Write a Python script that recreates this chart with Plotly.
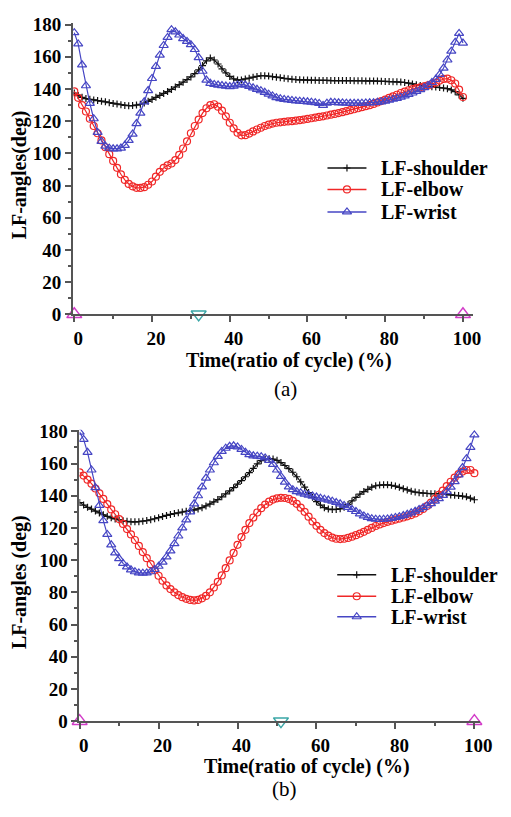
import plotly.graph_objects as go

# Gait-cycle time axis (% of cycle)
time_pct = list(range(0, 101))

# (a) joint angles, deg
shoulder_a = [137.5, 136, 134.8, 134, 133.6, 133.2, 132.8, 132.4, 132, 131.5,
              131, 130.6, 130.2, 129.8, 129.6, 129.7, 130, 130.5, 131.2, 132.3,
              133.5, 134.8, 136, 137.2, 138.4, 139.7, 141.2, 142.7, 144.2, 145.8,
              147.5, 149.5, 151.8, 154.5, 157.5, 159.3, 158, 155.5, 152.5, 150,
              147.8, 146.2, 145.5, 145.6, 146.2, 146.7, 147.3, 147.8, 148.2, 148.2,
              148, 147.6, 147.3, 147, 146.6, 146.3, 146, 145.8, 145.7, 145.6,
              145.5, 145.4, 145.4, 145.3, 145.3, 145.3, 145.2, 145.2, 145.2, 145.2,
              145.2, 145.2, 145.1, 145.1, 145.1, 145, 145, 145, 144.9, 144.8,
              144.7, 144.6, 144.5, 144.4, 144.3, 144, 143.6, 143.1, 142.6, 142.2,
              141.9, 141.6, 141.4, 141.2, 140.9, 140.6, 140.2, 139.4, 138.3, 136.3,
              134.2]
elbow_a = [138.5, 134.5, 130, 126, 121.5, 117, 112.5, 108, 103.8, 99.5,
           95.3, 91, 87, 83.5, 81, 79.5, 78.6, 78.5, 79, 80.5,
           82.5, 85.5, 88.5, 91, 92.5, 93.7, 95.8, 99, 103, 107.5,
           112.5, 117, 121, 125, 128, 130, 130.5, 129, 126.5, 123,
           119, 115.5, 112.8, 111.2, 111.3, 112.3, 113.6, 114.8, 115.9, 117,
           117.8, 118.5, 119, 119.3, 119.6, 119.8, 120, 120.3, 120.6, 121,
           121.4, 121.8, 122.2, 122.6, 123, 123.5, 124, 124.5, 125, 125.6,
           126.2, 126.8, 127.4, 128, 128.7, 129.3, 129.9, 130.7, 131.6, 132.5,
           133.4, 134.4, 135.4, 136.4, 137.5, 138.4, 139.2, 139.9, 140.5, 141,
           141.6, 142.2, 143, 144, 145.2, 146.2, 146.4, 145.4, 143.4, 139.6,
           135]
wrist_a = [175, 168, 155, 142, 131, 121.5, 113, 107.5, 104.5, 103.2,
           102.8, 102.8, 103.3, 105, 108, 112, 118.5, 125, 132, 139,
           146.5, 154, 161, 167, 172, 176.8, 175.5, 173.5, 171.3, 169.5,
           167.5, 164.5, 159.5, 151, 145.5, 143.5, 142.8, 142.4, 142.1, 141.8,
           141.5, 141.8, 142.5, 142.8, 142.4, 141.6, 140.7, 139.8, 138.9, 137.9,
           136.8, 135.7, 134.6, 134, 133.5, 133.2, 132.9, 132.6, 132.4, 132.2,
           132, 131.8, 131.5, 131, 129.8, 131.2, 131.7, 131.6, 131.4, 131.3,
           131.2, 131.1, 131.1, 131.1, 131.2, 131.3, 131.4, 131.5, 131.7, 132,
           132.5, 133, 133.6, 134.2, 134.9, 135.7, 136.6, 137.5, 138.5, 139.6,
           140.8, 142.2, 144, 146, 149, 153, 158, 163.5, 169, 174.5,
           168.5]

# (b) joint angles, deg
shoulder_b = [135.8, 134.2, 132.8, 131.7, 130.5, 129.3, 128.2, 127.2, 126.3, 125.6,
              125, 124.5, 124.1, 123.8, 123.8, 123.9, 124.2, 124.6, 125.1, 125.7,
              126.4, 127.1, 127.8, 128.4, 128.9, 129.4, 129.9, 130.3, 130.7, 131.1,
              131.8, 132.6, 133.7, 134.8, 136.2, 137.6, 139.3, 141.1, 143, 145,
              147.2, 149.4, 151.8, 154.3, 157, 159.8, 161.8, 162.8, 163, 162.8,
              162, 160.6, 158.8, 156.8, 154.6, 151.8, 148.6, 145.3, 142, 139,
              136.3, 134.2, 132.6, 131.7, 131.4, 131.5, 131.9, 132.9, 134.6, 136.8,
              139, 141, 142.6, 144, 145.3, 146.2, 146.6, 146.8, 146.8, 146.5,
              146, 145.2, 144.4, 143.6, 142.8, 142.3, 141.9, 141.6, 141.4, 141.3,
              141.3, 141.3, 141.1, 140.8, 140.5, 140.3, 140.1, 139.8, 139.3, 138.5,
              137.5]
elbow_b = [154.5, 152.5, 150, 147.5, 144.5, 141.5, 138, 134.8, 131.5, 128.5,
           125.5, 122.5, 119.3, 116, 112.5, 108.8, 105, 101.2, 97.5, 93.8,
           90.3, 87.2, 84.3, 82, 80, 78.3, 77, 76, 75.3, 75,
           75.3, 76.3, 77.8, 80, 83, 86.5, 90.5, 95, 99.8, 104.5,
           109.5, 114.3, 118.8, 123, 126.5, 129.6, 132.3, 134.5, 136.3, 137.6,
           138.4, 138.7, 138.6, 138, 136.8, 135, 132.6, 130, 127, 124,
           121.3, 118.8, 116.8, 115.2, 114, 113.3, 113.1, 113.3, 113.8, 114.6,
           115.5, 116.5, 117.6, 118.8, 120, 121.2, 122.2, 123, 123.8, 124.5,
           125.2, 125.8, 126.5, 127.2, 128, 129, 130.3, 131.8, 133.6, 135.7,
           138, 140.5, 143.2, 146, 148.7, 151.2, 153.4, 155, 156, 156,
           154]
wrist_b = [179.5, 175, 167, 156, 145, 134, 124.5, 116, 109.5, 104.5,
           101, 98, 95.8, 94, 92.8, 92.1, 91.9, 92.1, 92.8, 94.2,
           96.2, 98.8, 102, 105.8, 110.2, 115, 120, 125, 130, 135,
           140, 145.5, 151, 156, 160.5, 164.5, 167.5, 169.5, 170.7, 171,
           170.3, 168.8, 167, 165.5, 164.8, 164.6, 164.3, 163.5, 162, 159.5,
           156, 152, 148.5, 145.5, 143.8, 142.6, 141.8, 141, 140.4, 139.8,
           139.2, 138.5, 137.9, 137.3, 136.6, 135.8, 135, 134, 132.8, 131.5,
           130.2, 128.8, 127.5, 126.5, 125.8, 125.4, 125.3, 125.4, 125.6, 126,
           126.5, 127, 127.7, 128.5, 129.4, 130.4, 131.5, 132.6, 133.8, 135.1,
           136.6, 138.2, 140.2, 142.5, 145.3, 148.8, 153, 157.5, 163, 170,
           177.8]

# Gait events on the time axis
touchdown_a = [0, 100]
liftoff_a = [32]
touchdown_b = [0, 100]
liftoff_b = [51]

series_names = ["LF-shoulder", "LF-elbow", "LF-wrist"]
y_ticks = list(range(0, 181, 20))
x_ticks = list(range(0, 101, 20))

W, H = 511, 817
SERIF = "Liberation Serif"

styles = {
    "LF-shoulder": dict(color="#111111", symbol="cross-thin", size=5, mlw=1.2),
    "LF-elbow": dict(color="#f02828", symbol="circle-open", size=7, mlw=1.2),
    "LF-wrist": dict(color="#4646c4", symbol="triangle-up-open", size=8, mlw=1.2),
}

fig = go.Figure()


def add_panel(xa, ya, values):
    for name, ys in zip(series_names, values):
        st = styles[name]
        fig.add_trace(go.Scatter(
            x=time_pct, y=ys, name=name, mode="lines+markers",
            line=dict(color=st["color"], width=1.2),
            marker=dict(symbol=st["symbol"], size=st["size"], color=st["color"],
                        line=dict(color=st["color"], width=st["mlw"])),
            xaxis=xa, yaxis=ya, showlegend=False,
        ))


def add_events(xa, ya, touch, lift):
    fig.add_trace(go.Scatter(
        x=touch, y=[0] * len(touch), mode="markers", showlegend=False,
        marker=dict(symbol="triangle-up-open", size=13, color="#d23cc8",
                    line=dict(width=1.5, color="#d23cc8")),
        cliponaxis=False, xaxis=xa, yaxis=ya))
    fig.add_trace(go.Scatter(
        x=lift, y=[0] * len(lift), mode="markers", showlegend=False,
        marker=dict(symbol="triangle-down-open", size=13, color="#3aa6a6",
                    line=dict(width=1.5, color="#3aa6a6")),
        cliponaxis=False, xaxis=xa, yaxis=ya))


add_panel("x", "y", [shoulder_a, elbow_a, wrist_a])
add_events("x", "y", touchdown_a, liftoff_a)
add_panel("x2", "y2", [shoulder_b, elbow_b, wrist_b])
add_events("x2", "y2", touchdown_b, liftoff_b)

# Legend keys drawn on a page-pixel overlay axis (x3/y3)
legend_font = dict(family=SERIF, size=20, color="black", weight="bold")
legend_boxes = [
    dict(rows=[163, 185, 208], x0=335, x1=375, text_x=388),
    dict(rows=[580, 602, 623], x0=345, x1=385, text_x=398),
]
for box in legend_boxes:
    for name, yrow in zip(series_names, box["rows"]):
        st = styles[name]
        fig.add_trace(go.Scatter(
            x=[box["x0"], box["x1"]], y=[yrow, yrow], mode="lines",
            line=dict(color=st["color"], width=1.5), showlegend=False,
            hoverinfo="skip", xaxis="x3", yaxis="y3"))
        fig.add_trace(go.Scatter(
            x=[(box["x0"] + box["x1"]) / 2], y=[yrow], mode="markers",
            marker=dict(symbol=st["symbol"], size=st["size"], color=st["color"],
                        line=dict(color=st["color"], width=st["mlw"])),
            showlegend=False, hoverinfo="skip", xaxis="x3", yaxis="y3"))
        fig.add_annotation(x=box["text_x"], y=yrow, xref="x3", yref="y3",
                           text=name, showarrow=False, xanchor="left",
                           yanchor="middle", font=legend_font)

tick_font = dict(family=SERIF, size=19, color="black", weight="bold")
axis_common = dict(
    showline=True, linecolor="#555555", linewidth=2, showgrid=False,
    zeroline=False, ticks="outside", ticklen=6, tickwidth=1.5,
    tickcolor="#555555", tickfont=tick_font,
    minor=dict(ticks="outside", ticklen=3, tickwidth=1.5, tickcolor="#555555",
               dtick=10),
)


def px_x(p):
    return p / W


def px_y(p):
    return (H - p) / H


fig.update_layout(
    width=W, height=H, margin=dict(l=0, r=0, t=0, b=0),
    paper_bgcolor="white", plot_bgcolor="rgba(0,0,0,0)",
    xaxis=dict(domain=[px_x(74), px_x(484)], range=[-0.3, 102.5],
               tickvals=x_ticks, anchor="y", ticklabelshift=4, **axis_common),
    yaxis=dict(domain=[px_y(313), px_y(14.3)], range=[0, 181],
               tickvals=y_ticks, anchor="x", **axis_common),
    xaxis2=dict(domain=[px_x(80.5), px_x(491.8)], range=[-0.05, 101.5],
                tickvals=x_ticks, anchor="y2", ticklabelshift=4, **axis_common),
    yaxis2=dict(domain=[px_y(730), px_y(431.3)], range=[0, 181],
                tickvals=y_ticks, anchor="x2", **axis_common),
    xaxis3=dict(domain=[0, 1], range=[0, W], visible=False, anchor="y3",
                fixedrange=True),
    yaxis3=dict(domain=[0, 1], range=[H, 0], visible=False, anchor="x3",
                fixedrange=True),
    showlegend=False,
)

title_font = dict(family=SERIF, size=20, color="black", weight="bold")
caption_font = dict(family=SERIF, size=21, color="black")
annotations = [
    dict(text="Time(ratio of cycle) (%)", x=px_x(296), y=px_y(360), font=title_font),
    dict(text="(a)", x=px_x(292), y=px_y(390), font=caption_font),
    dict(text="Time(ratio of cycle) (%)", x=px_x(314), y=px_y(777), font=title_font),
    dict(text="(b)", x=px_x(291), y=px_y(800), font=caption_font),
    dict(text="LF-angles(deg)", x=px_x(19), y=px_y(170), textangle=-90, font=title_font),
    dict(text="LF-angles (deg)", x=px_x(19), y=px_y(588), textangle=-90, font=title_font),
]
for a in annotations:
    fig.add_annotation(xref="paper", yref="paper", showarrow=False,
                       xanchor="center", yanchor="middle", **a)

fig.write_html("out.html")
